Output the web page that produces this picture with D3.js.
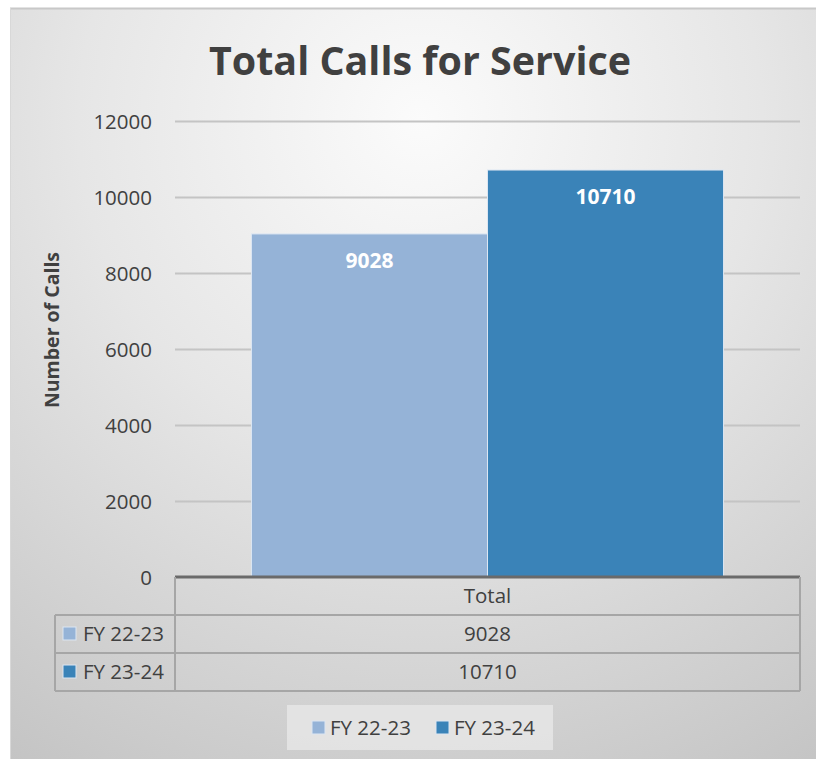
<!DOCTYPE html>
<html>
<head>
<meta charset="utf-8">
<script src="https://cdn.jsdelivr.net/npm/d3@7"></script>
<style>
html,body{margin:0;padding:0;background:#fff;}
svg{display:block;}
text{font-family:"Open Sans","Noto Sans",sans-serif;}
</style>
</head>
<body>
<svg id="chart" width="816" height="759"></svg>
<script>
// ---- data ----
const categories = ["Total"];
const seriesNames = ["FY 22-23", "FY 23-24"];
const seriesValues = [[9028], [10710]];
const yTicks = [0, 2000, 4000, 6000, 8000, 10000, 12000];
const colors = ["#95b3d7", "#3a83b8"];
const titleText = "Total Calls for Service";
const yAxisTitle = "Number of Calls";

const svg = d3.select("#chart");
const defs = svg.append("defs");
const grad = defs.append("radialGradient").attr("id", "bg")
  .attr("gradientUnits", "userSpaceOnUse")
  .attr("cx", 420).attr("cy", 120).attr("r", 760);
grad.append("stop").attr("offset", "0").attr("stop-color", "#fbfbfb");
grad.append("stop").attr("offset", "0.45").attr("stop-color", "#e6e6e6");
grad.append("stop").attr("offset", "1").attr("stop-color", "#c4c4c4");

svg.append("rect").attr("x", 10).attr("y", 8).attr("width", 806).attr("height", 751)
  .attr("fill", "url(#bg)");
svg.append("line").attr("x1", 10).attr("x2", 816).attr("y1", 8.5).attr("y2", 8.5)
  .attr("stroke", "#c8c8c8").attr("stroke-width", 2);
svg.append("line").attr("x1", 10.5).attr("x2", 10.5).attr("y1", 8).attr("y2", 759)
  .attr("stroke", "#d8d8d8").attr("stroke-width", 1);

const plot = {left: 175, right: 800, top: 121, bottom: 577};
const FS = 20.5;

const y = d3.scaleLinear().domain([0, 12000]).range([plot.bottom, plot.top]);
const x0 = d3.scaleBand().domain(categories).range([plot.left, plot.right]).paddingInner(0).paddingOuter(0.162);
const x1 = d3.scaleBand().domain(seriesNames).range([0, x0.bandwidth()]).padding(0);

// title
svg.append("text").attr("x", 420).attr("y", 75).attr("text-anchor", "middle")
  .attr("font-size", 40).attr("font-weight", "bold").attr("fill", "#404040")
  .attr("textLength", 422).attr("lengthAdjust", "spacingAndGlyphs")
  .text(titleText);

// gridlines
svg.append("g").selectAll("line").data(yTicks.filter(d => d > 0)).join("line")
  .attr("x1", plot.left).attr("x2", plot.right)
  .attr("y1", d => y(d) + 0.5).attr("y2", d => y(d) + 0.5)
  .attr("stroke", "#c4c4c4").attr("stroke-width", 2);

// y axis
const yAxis = d3.axisLeft(y).tickValues(yTicks).tickFormat(d3.format("d")).tickSize(0).tickPadding(0);
const gy = svg.append("g").attr("transform", `translate(152,0)`).call(yAxis);
gy.select(".domain").remove();
gy.selectAll("text").attr("font-size", FS).attr("fill", "#404040")
  .attr("font-family", '"Open Sans","Noto Sans",sans-serif').attr("dy", "0.35em");

// y axis title
svg.append("text").attr("transform", "translate(59,330) rotate(-90)")
  .attr("text-anchor", "middle").attr("font-size", 19.5).attr("font-weight", "bold")
  .attr("fill", "#404040").text(yAxisTitle);

// bars
const barData = [];
categories.forEach((c, ci) => seriesNames.forEach((s, si) => barData.push({c, s, v: seriesValues[si][ci], i: si})));
const bars = svg.append("g");
bars.selectAll("rect").data(barData).join("rect")
  .attr("x", d => x0(d.c) + x1(d.s))
  .attr("y", d => y(d.v))
  .attr("width", x1.bandwidth())
  .attr("height", d => y(0) - y(d.v))
  .attr("fill", d => colors[d.i])
  .attr("stroke", "#dce6f2").attr("stroke-width", 1);
bars.selectAll("text").data(barData).join("text")
  .attr("x", d => x0(d.c) + x1(d.s) + x1.bandwidth() / 2)
  .attr("y", d => y(d.v) + 27).attr("dy", "0.35em")
  .attr("text-anchor", "middle").attr("font-size", 21).attr("font-weight", "bold")
  .attr("fill", "#ffffff").text(d => d.v);

// zero axis line
svg.append("line").attr("x1", plot.left).attr("x2", plot.right)
  .attr("y1", plot.bottom).attr("y2", plot.bottom)
  .attr("stroke", "#6a6a6a").attr("stroke-width", 3);

// data table
const rowH = 38;
const tableTop = plot.bottom;
const legendColLeft = 55;
const tbl = svg.append("g").attr("stroke", "#a6a6a6").attr("stroke-width", 2).attr("fill", "none");
tbl.append("line").attr("x1", plot.left).attr("x2", plot.left).attr("y1", tableTop).attr("y2", tableTop + rowH * 3);
tbl.append("line").attr("x1", plot.right).attr("x2", plot.right).attr("y1", tableTop).attr("y2", tableTop + rowH * 3);
tbl.append("line").attr("x1", legendColLeft).attr("x2", legendColLeft).attr("y1", tableTop + rowH).attr("y2", tableTop + rowH * 3);
[1, 2, 3].forEach(k => {
  tbl.append("line").attr("x1", legendColLeft).attr("x2", plot.right)
    .attr("y1", tableTop + rowH * k).attr("y2", tableTop + rowH * k);
});
svg.append("g").selectAll("text").data(categories).join("text")
  .attr("x", d => x0(d) + x0.bandwidth() / 2).attr("y", tableTop + rowH / 2)
  .attr("dy", "0.35em").attr("text-anchor", "middle").attr("font-size", FS).attr("fill", "#404040")
  .text(d => d);
seriesNames.forEach((s, si) => {
  const ry = tableTop + rowH * (si + 1);
  svg.append("rect").attr("x", 63).attr("y", ry + rowH / 2 - 7).attr("width", 13).attr("height", 13)
    .attr("fill", colors[si]).attr("stroke", "#dce6f2").attr("stroke-width", 1);
  svg.append("text").attr("x", 83).attr("y", ry + rowH / 2).attr("dy", "0.35em")
    .attr("font-size", FS).attr("fill", "#404040").text(s);
  categories.forEach((c, ci) => {
    svg.append("text").attr("x", x0(c) + x0.bandwidth() / 2).attr("y", ry + rowH / 2)
      .attr("dy", "0.35em").attr("text-anchor", "middle").attr("font-size", FS).attr("fill", "#404040")
      .text(seriesValues[si][ci]);
  });
});

// legend
const lg = svg.append("g");
lg.append("rect").attr("x", 287).attr("y", 705).attr("width", 266).attr("height", 45).attr("fill", "#e4e4e4").attr("opacity", 0.9);
const legendX = [312, 436];
seriesNames.forEach((s, si) => {
  lg.append("rect").attr("x", legendX[si]).attr("y", 721).attr("width", 13).attr("height", 13)
    .attr("fill", colors[si]).attr("stroke", "#dce6f2").attr("stroke-width", 1);
  lg.append("text").attr("x", legendX[si] + 18).attr("y", 727.5).attr("dy", "0.35em")
    .attr("font-size", FS).attr("fill", "#404040").text(s);
});
</script>
</body>
</html>
